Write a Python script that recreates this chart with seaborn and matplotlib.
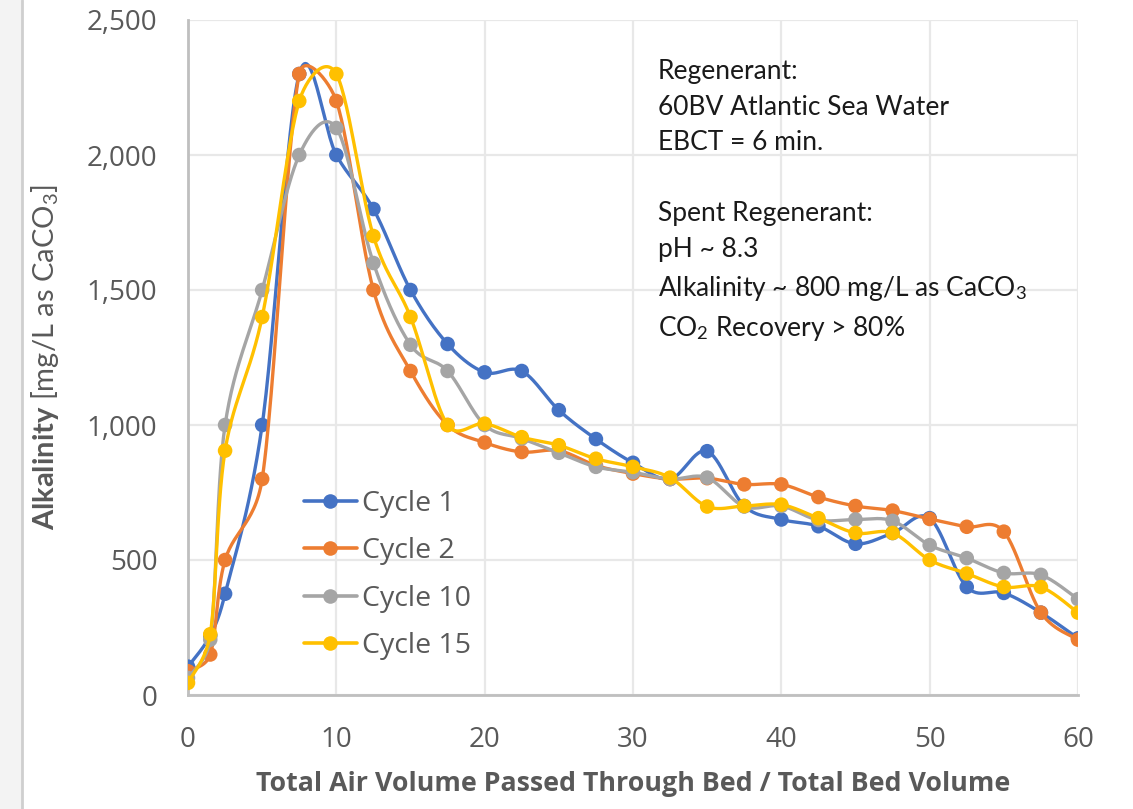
import numpy as np
import pandas as pd
import matplotlib
matplotlib.use("Agg")
import matplotlib.pyplot as plt
import seaborn as sns
from matplotlib.ticker import FuncFormatter, FixedLocator
from matplotlib.lines import Line2D

# ---------------- data ----------------
bed_volume = [0, 1.5, 2.5, 5, 7.5, 10, 12.5, 15, 17.5, 20, 22.5, 25, 27.5, 30,
              32.5, 35, 37.5, 40, 42.5, 45, 47.5, 50, 52.5, 55, 57.5, 60]
cycle_1 = [105, 220, 375, 1000, 2300, 2000, 1800, 1500, 1300, 1195, 1200, 1055, 948, 860,
           800, 903, 700, 650, 625, 560, 600, 655, 400, 378, 305, 210]
cycle_2 = [88, 150, 500, 800, 2300, 2200, 1500, 1200, 1000, 935, 900, 905, 850, 820,
           800, 803, 780, 780, 733, 700, 683, 652, 623, 605, 305, 205]
cycle_10 = [63, 205, 1000, 1500, 2000, 2100, 1600, 1297, 1200, 1000, 950, 897, 845, 825,
            800, 805, 698, 700, 648, 650, 645, 555, 507, 452, 445, 355]
cycle_15 = [45, 225, 905, 1400, 2200, 2300, 1700, 1400, 1000, 1005, 955, 925, 875, 845,
            805, 698, 700, 705, 655, 600, 600, 500, 450, 400, 400, 305]

series_names = ["Cycle 1", "Cycle 2", "Cycle 10", "Cycle 15"]
series_values = [cycle_1, cycle_2, cycle_10, cycle_15]
colors = ["#4472C4", "#ED7D31", "#A5A5A5", "#FFC000"]

x_ticks = [0, 10, 20, 30, 40, 50, 60]
y_ticks = [0, 500, 1000, 1500, 2000, 2500]

annotation_lines = [
    "Regenerant:",
    "60BV Atlantic Sea Water",
    "EBCT = 6 min.",
    "",
    "Spent Regenerant:",
    "pH ~ 8.3",
    "Alkalinity ~ 800 mg/L as CaCO$_3$",
    "CO$_2$ Recovery > 80%",
]

# ---------------- style ----------------
sns.set_theme(style="whitegrid")
plt.rcParams["font.family"] = ["Open Sans", "DejaVu Sans"]
plt.rcParams["mathtext.fontset"] = "custom"
plt.rcParams["mathtext.rm"] = "Lato"
plt.rcParams["mathtext.it"] = "Lato:italic"
plt.rcParams["mathtext.bf"] = "Lato:bold"

W, H = 1133, 809
fig = plt.figure(figsize=(W / 100, H / 100), dpi=100)
L, R, T, B = 188, 1078, 20, 695
ax = fig.add_axes([L / W, 1 - B / H, (R - L) / W, (B - T) / H])
ax.set_facecolor("white")

XMIN, XMAX, YMIN, YMAX = 0, 60, 0, 2500
sx = (R - L) / (XMAX - XMIN)
sy = (B - T) / (YMAX - YMIN)


def smooth_curve(xs, ys, n=30):
    """Excel-like smoothed line: Catmull-Rom Bezier in screen space with
    control arms limited to half of the segment length."""
    P = np.column_stack([np.asarray(xs, float) * sx, np.asarray(ys, float) * sy])
    out = []
    m = len(P)
    t = np.linspace(0, 1, n)
    for i in range(m - 1):
        p0 = P[i - 1] if i > 0 else P[i]
        p1 = P[i]
        p2 = P[i + 1]
        p3 = P[i + 2] if i + 2 < m else P[i + 1]
        d12 = np.linalg.norm(p2 - p1)
        a1 = (p2 - p0) / 6.0
        a2 = (p3 - p1) / 6.0
        for a in (a1, a2):
            la = np.linalg.norm(a)
            if la > d12 / 2 and la > 0:
                a *= (d12 / 2) / la
        c1 = p1 + a1
        c2 = p2 - a2
        seg = ((1 - t)[:, None] ** 3 * p1 + 3 * ((1 - t) ** 2 * t)[:, None] * c1
               + 3 * ((1 - t) * t ** 2)[:, None] * c2 + (t ** 3)[:, None] * p2)
        out.append(seg if i == 0 else seg[1:])
    C = np.vstack(out)
    return C[:, 0] / sx, C[:, 1] / sy


for k, (name, vals, col) in enumerate(zip(series_names, series_values, colors)):
    cx, cy = smooth_curve(bed_volume, vals)
    curve = pd.DataFrame({"x": cx, "y": cy})
    sns.lineplot(data=curve, x="x", y="y", ax=ax, color=col, lw=2.4,
                 sort=False, estimator=None, zorder=3 + 2 * k)
    pts = pd.DataFrame({"x": bed_volume, "y": vals})
    sns.scatterplot(data=pts, x="x", y="y", ax=ax, color=col, s=110,
                    edgecolor="none", linewidth=0, zorder=4 + 2 * k)

ax.set_xlim(XMIN, XMAX)
ax.set_ylim(YMIN, YMAX)
ax.xaxis.set_major_locator(FixedLocator(x_ticks))
ax.yaxis.set_major_locator(FixedLocator(y_ticks))
ax.yaxis.set_major_formatter(FuncFormatter(lambda v, p: f"{int(v):,}"))
ax.tick_params(axis="both", length=0, labelsize=20, labelcolor="#595959")
ax.tick_params(axis="y", pad=22)
ax.tick_params(axis="x", pad=22)
ax.grid(True, color="#e8e8e8", lw=1.6)
for s in ["top", "right"]:
    ax.spines[s].set_visible(False)
for s in ["left", "bottom"]:
    ax.spines[s].set_color("#bfbfbf")
    ax.spines[s].set_linewidth(2)
    ax.spines[s].set_zorder(2.5)

ax.set_xlabel("")
ax.set_ylabel("")
fig.text((L + R) / 2 / W, 1 - 784 / H,
         "Total Air Volume Passed Through Bed / Total Bed Volume",
         ha="center", va="center", fontsize=19.3, fontweight="bold", color="#595959")
fig.text(45 / W, 1 - 357 / H,
         r"$\mathbf{Alkalinity}$ [mg/L as CaCO$_3$]",
         ha="center", va="center", rotation=90, fontsize=21, color="#595959",
         family="Lato")

# legend
handles = [Line2D([0], [0], color=c, lw=2.6, marker="o", markersize=10.5,
                  markeredgewidth=0) for c in colors]
leg = fig.legend(handles, series_names, loc="upper left",
                 bbox_to_anchor=(304 / W, 1 - 490 / H), frameon=False,
                 fontsize=20.5, handlelength=1.85, handletextpad=0.2,
                 labelspacing=0.68, borderpad=0, borderaxespad=0)
for t in leg.get_texts():
    t.set_color("#595959")

# annotation
fig.text(658 / W, 1 - 59 / H, "\n".join(annotation_lines), ha="left", va="top",
         fontsize=19, color="#1a1a1a", family="Lato", linespacing=1.53)

# screenshot edge
fig.patches.append(plt.Rectangle((0, 0), 22 / W, 1, transform=fig.transFigure,
                                 facecolor="#f3f3f3", edgecolor="none", zorder=0))
fig.lines.append(Line2D([22 / W, 22 / W], [0, 1], transform=fig.transFigure,
                        color="#cfcfcf", lw=2))

fig.savefig("out.png", dpi=100, facecolor="white")
